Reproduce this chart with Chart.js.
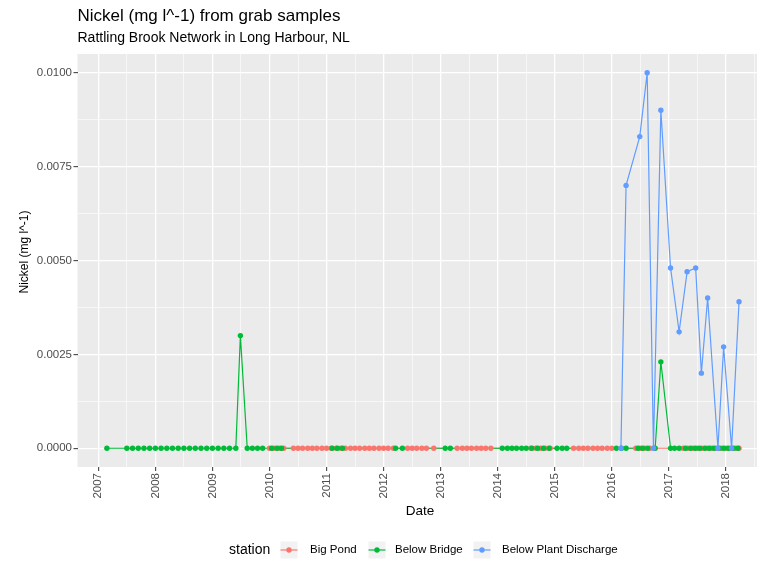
<!DOCTYPE html>
<html>
<head>
<meta charset="utf-8">
<title>Nickel from grab samples</title>
<script src="https://cdn.jsdelivr.net/npm/chart.js@4.4.1/dist/chart.umd.min.js"></script>
<style>
  html, body { margin: 0; padding: 0; background: #ffffff; }
  canvas { display: block; }
</style>
</head>
<body>
<canvas id="nickelChart" width="765" height="563"></canvas>
<script>
// stations and their colours (ggplot hue palette)
const stations = ["Big Pond", "Below Bridge", "Below Plant Discharge"];
const stationColors = ["#F8766D", "#00BA38", "#619CFF"];

// sample dates as decimal years, nickel in mg l^-1
const bigPondDates = [
  2010.00, 2010.08, 2010.17, 2010.25,
  2010.42, 2010.50, 2010.58, 2010.67, 2010.75, 2010.83, 2010.92,
  2011.00, 2011.08, 2011.17, 2011.25, 2011.33, 2011.42, 2011.50, 2011.58, 2011.67, 2011.75, 2011.83, 2011.92,
  2012.00, 2012.08, 2012.17, 2012.42, 2012.50, 2012.58, 2012.67, 2012.75, 2012.88,
  2013.29, 2013.38, 2013.46, 2013.54, 2013.63, 2013.71, 2013.79, 2013.88,
  2014.58, 2014.67, 2014.75, 2014.83, 2014.92,
  2015.33, 2015.42, 2015.50, 2015.58, 2015.67, 2015.75, 2015.83, 2015.92, 2016.00,
  2016.42, 2016.50, 2016.58, 2016.67, 2016.75,
  2017.25, 2017.33, 2017.42, 2017.50, 2017.58, 2017.67, 2017.75, 2017.83, 2017.92, 2018.00, 2018.08, 2018.17, 2018.23
];
const bigPondNickel = [
  0, 0, 0, 0,
  0, 0, 0, 0, 0, 0, 0,
  0, 0, 0, 0, 0, 0, 0, 0, 0, 0, 0, 0,
  0, 0, 0, 0, 0, 0, 0, 0, 0,
  0, 0, 0, 0, 0, 0, 0, 0,
  0, 0, 0, 0, 0,
  0, 0, 0, 0, 0, 0, 0, 0, 0,
  0, 0, 0, 0, 0,
  0, 0, 0, 0, 0, 0, 0, 0, 0, 0, 0, 0, 0
];

const belowBridgeDates = [
  2007.15,
  2007.50, 2007.60, 2007.70, 2007.80, 2007.90, 2008.00, 2008.10, 2008.20, 2008.30, 2008.40,
  2008.50, 2008.60, 2008.70, 2008.80, 2008.90, 2009.00, 2009.10, 2009.20, 2009.30, 2009.41,
  2009.49, 2009.61, 2009.70, 2009.79, 2009.88,
  2010.04, 2010.13, 2010.21,
  2011.10, 2011.19, 2011.28,
  2012.21, 2012.33,
  2013.08, 2013.17,
  2014.08, 2014.17, 2014.25, 2014.33, 2014.42, 2014.50, 2014.60, 2014.70, 2014.80, 2014.90,
  2015.04, 2015.13, 2015.21,
  2016.08, 2016.17, 2016.25,
  2016.46, 2016.54, 2016.63, 2016.76, 2016.86, 2017.03, 2017.10, 2017.18,
  2017.29, 2017.38, 2017.46, 2017.54, 2017.63, 2017.71, 2017.79, 2017.88, 2017.96, 2018.04, 2018.13, 2018.21
];
const belowBridgeNickel = [
  0,
  0, 0, 0, 0, 0, 0, 0, 0, 0, 0,
  0, 0, 0, 0, 0, 0, 0, 0, 0, 0,
  0.0030, 0, 0, 0, 0,
  0, 0, 0,
  0, 0, 0,
  0, 0,
  0, 0,
  0, 0, 0, 0, 0, 0, 0, 0, 0, 0,
  0, 0, 0,
  0, 0, 0,
  0, 0, 0, 0, 0.0023, 0, 0, 0,
  0, 0, 0, 0, 0, 0, 0, 0, 0, 0, 0, 0
];

const plantDischargeDates = [
  2016.16, 2016.25, 2016.49, 2016.62, 2016.73, 2016.86, 2017.03, 2017.18,
  2017.32, 2017.47, 2017.57, 2017.68, 2017.86, 2017.96, 2018.10, 2018.23
];
const plantDischargeNickel = [
  0, 0.0070, 0.0083, 0.0100, 0, 0.0090, 0.0048, 0.0031,
  0.0047, 0.0048, 0.0020, 0.0040, 0, 0.0027, 0, 0.0039
];

const xTicks = [2007, 2008, 2009, 2010, 2011, 2012, 2013, 2014, 2015, 2016, 2017, 2018];
const yTicks = [0, 0.0025, 0.005, 0.0075, 0.01];

const X_MIN = 2006.635, X_MAX = 2018.545;
const Y_MIN = -0.0005, Y_MAX = 0.0105;

const FONT = "'Liberation Sans', Arial, Helvetica, sans-serif";

function toPoints(dates, values) {
  return dates.map((d, i) => ({ x: d, y: values[i] }));
}

// major breaks plus the half-way minor breaks inside the limits
function withMinor(major, lo, hi) {
  const step = major[1] - major[0];
  const out = [];
  if (major[0] - step / 2 >= lo) out.push(major[0] - step / 2);
  major.forEach((m) => {
    out.push(m);
    if (m + step / 2 <= hi) out.push(m + step / 2);
  });
  return out;
}

const series = [
  toPoints(bigPondDates, bigPondNickel),
  toPoints(belowBridgeDates, belowBridgeNickel),
  toPoints(plantDischargeDates, plantDischargeNickel),
];

// all lines first, then the points on top of them
const datasets = [];
series.forEach((pts, i) => {
  datasets.push({
    label: stations[i] + " line",
    data: pts,
    borderColor: stationColors[i],
    borderWidth: 1.2,
    pointRadius: 0,
    tension: 0,
    fill: false,
    order: 10 - i,
  });
});
series.forEach((pts, i) => {
  datasets.push({
    label: stations[i],
    data: pts,
    showLine: false,
    pointRadius: 2.7,
    pointBorderWidth: 0,
    pointBackgroundColor: stationColors[i],
    order: 5 - i,
  });
});

function gridFor(major) {
  const isMajor = (c) => c.tick && major.includes(c.tick.value);
  return {
    color: "#FFFFFF",
    lineWidth: (c) => (isMajor(c) ? 1.3 : 0.6),
    tickColor: (c) => (isMajor(c) ? "#333333" : "rgba(0,0,0,0)"),
    tickWidth: 1,
    tickLength: 4,
  };
}

const ggTheme = {
  id: "ggTheme",
  beforeDraw(chart) {
    const { ctx, chartArea: a } = chart;
    ctx.save();
    ctx.fillStyle = "#FFFFFF";
    ctx.fillRect(0, 0, chart.width, chart.height);
    ctx.fillStyle = "#EBEBEB";
    ctx.fillRect(a.left, a.top, a.right - a.left, a.bottom - a.top);
    ctx.restore();
  },
  afterDraw(chart) {
    const { ctx, chartArea: a } = chart;
    ctx.save();
    ctx.fillStyle = "#000000";
    ctx.textAlign = "left";
    ctx.textBaseline = "alphabetic";
    ctx.font = "17px " + FONT;
    ctx.fillText("Nickel (mg l^-1) from grab samples", a.left, 20.5);
    ctx.font = "14px " + FONT;
    ctx.fillText("Rattling Brook Network in Long Harbour, NL", a.left, 42);

    // axis titles
    ctx.textAlign = "center";
    ctx.textBaseline = "middle";
    ctx.font = "13.5px " + FONT;
    ctx.fillText("Date", 420, 511);
    ctx.save();
    ctx.translate(25, 252);
    ctx.rotate(-Math.PI / 2);
    ctx.font = "12px " + FONT;
    ctx.fillText("Nickel (mg l^-1)", 0, 0);
    ctx.restore();

    // legend along the bottom
    const ly = 550;
    ctx.textAlign = "left";
    ctx.font = "14px " + FONT;
    ctx.fillText("station", 229, ly);
    const keyX = [289, 377, 482];
    const labelX = [310, 395, 502];
    stations.forEach((name, i) => {
      ctx.fillStyle = "#F2F2F2";
      ctx.fillRect(keyX[i] - 8.5, ly - 8.5, 17, 17);
      ctx.strokeStyle = stationColors[i];
      ctx.lineWidth = 1.2;
      ctx.beginPath();
      ctx.moveTo(keyX[i] - 8.5, ly);
      ctx.lineTo(keyX[i] + 8.5, ly);
      ctx.stroke();
      ctx.fillStyle = stationColors[i];
      ctx.beginPath();
      ctx.arc(keyX[i], ly, 2.7, 0, Math.PI * 2);
      ctx.fill();
      ctx.fillStyle = "#000000";
      ctx.font = "11.5px " + FONT;
      ctx.fillText(name, labelX[i], ly);
    });
    ctx.restore();
  },
};

new Chart(document.getElementById("nickelChart"), {
  type: "line",
  data: { datasets: datasets },
  options: {
    responsive: false,
    animation: false,
    events: [],
    layout: { padding: { top: 54, right: 8, bottom: 44, left: 0 } },
    plugins: {
      legend: { display: false },
      tooltip: { enabled: false },
      title: { display: false },
    },
    scales: {
      x: {
        type: "linear",
        min: X_MIN,
        max: X_MAX,
        afterBuildTicks: (scale) => {
          scale.ticks = withMinor(xTicks, X_MIN, X_MAX).map((v) => ({ value: v }));
        },
        afterFit: (scale) => {
          scale.height = 52;
          scale.paddingLeft = 0;
          scale.paddingRight = 0;
        },
        grid: gridFor(xTicks),
        border: { display: false },
        ticks: {
          autoSkip: false,
          minRotation: 90,
          maxRotation: 90,
          padding: 2,
          color: "#4D4D4D",
          font: { family: FONT, size: 11.5, lineHeight: 1 },
          callback: (v) => (xTicks.includes(v) ? String(v) : ""),
        },
      },
      y: {
        type: "linear",
        min: Y_MIN,
        max: Y_MAX,
        afterBuildTicks: (scale) => {
          scale.ticks = withMinor(yTicks, Y_MIN, Y_MAX).map((v) => ({ value: v }));
        },
        afterFit: (scale) => {
          scale.width = 77.5;
          scale.paddingTop = 0;
          scale.paddingBottom = 0;
        },
        grid: gridFor(yTicks),
        border: { display: false },
        ticks: {
          autoSkip: false,
          padding: 1.5,
          color: "#4D4D4D",
          font: { family: FONT, size: 11.5, lineHeight: 1 },
          callback: (v) => (yTicks.includes(v) ? v.toFixed(4) : ""),
        },
      },
    },
  },
  plugins: [ggTheme],
});
</script>
</body>
</html>
